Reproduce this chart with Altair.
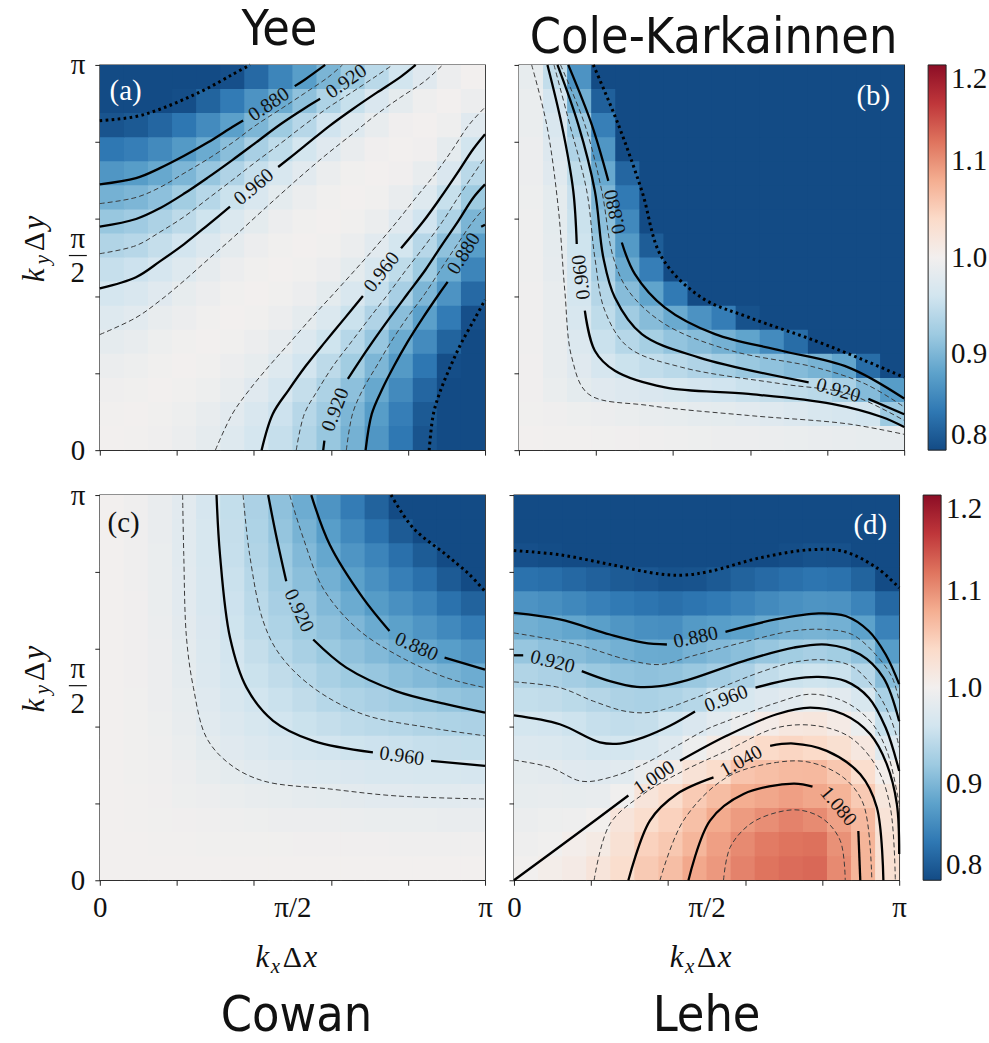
import altair as alt
import pandas as pd

SERIF = "Liberation Serif"
SANS = "DejaVu Sans Condensed"
N = 16
PANEL = 386
TICKS = [0, 0.2, 0.4, 0.6, 0.8, 1.0]

# ---------------- heat-map values ----------------
# rows: k_y index from 0 (bottom) to pi (top); 16 columns k_x from 0 to pi
YEE_ROWS = [
    [1.000, 0.999, 0.996, 0.991, 0.984, 0.975, 0.964, 0.951, 0.935, 0.917, 0.895, 0.869, 0.840, 0.808, 0.770, 0.730],
    [0.999, 1.000, 0.998, 0.994, 0.988, 0.980, 0.969, 0.956, 0.940, 0.922, 0.900, 0.875, 0.846, 0.813, 0.776, 0.736],
    [0.996, 0.998, 1.000, 0.998, 0.994, 0.987, 0.977, 0.965, 0.950, 0.932, 0.910, 0.886, 0.857, 0.824, 0.787, 0.747],
    [0.991, 0.994, 0.998, 1.000, 0.998, 0.993, 0.986, 0.975, 0.961, 0.944, 0.924, 0.900, 0.872, 0.839, 0.803, 0.763],
    [0.984, 0.988, 0.994, 0.998, 1.000, 0.998, 0.993, 0.985, 0.973, 0.958, 0.939, 0.916, 0.889, 0.858, 0.822, 0.782],
    [0.975, 0.980, 0.987, 0.993, 0.998, 1.000, 0.998, 0.993, 0.984, 0.971, 0.955, 0.934, 0.908, 0.878, 0.843, 0.804],
    [0.964, 0.969, 0.977, 0.986, 0.993, 0.998, 1.000, 0.998, 0.993, 0.983, 0.969, 0.951, 0.928, 0.900, 0.866, 0.827],
    [0.951, 0.956, 0.965, 0.975, 0.985, 0.993, 0.998, 1.000, 0.998, 0.992, 0.982, 0.967, 0.946, 0.921, 0.889, 0.852],
    [0.935, 0.940, 0.950, 0.961, 0.973, 0.984, 0.993, 0.998, 1.000, 0.998, 0.991, 0.980, 0.963, 0.940, 0.911, 0.876],
    [0.917, 0.922, 0.932, 0.944, 0.958, 0.971, 0.983, 0.992, 0.998, 1.000, 0.998, 0.991, 0.978, 0.959, 0.933, 0.899],
    [0.895, 0.900, 0.910, 0.924, 0.939, 0.955, 0.969, 0.982, 0.991, 0.998, 1.000, 0.998, 0.989, 0.975, 0.952, 0.921],
    [0.869, 0.875, 0.886, 0.900, 0.916, 0.934, 0.951, 0.967, 0.980, 0.991, 0.998, 1.000, 0.997, 0.988, 0.970, 0.942],
    [0.840, 0.846, 0.857, 0.872, 0.889, 0.908, 0.928, 0.946, 0.963, 0.978, 0.989, 0.997, 1.000, 0.997, 0.984, 0.960],
    [0.808, 0.813, 0.824, 0.839, 0.858, 0.878, 0.900, 0.921, 0.940, 0.959, 0.975, 0.988, 0.997, 1.000, 0.995, 0.977],
    [0.770, 0.776, 0.787, 0.803, 0.822, 0.843, 0.866, 0.889, 0.911, 0.933, 0.952, 0.970, 0.984, 0.995, 1.000, 0.992],
    [0.730, 0.736, 0.747, 0.763, 0.782, 0.804, 0.827, 0.852, 0.876, 0.899, 0.921, 0.942, 0.960, 0.977, 0.992, 1.000],
]

CK_ROWS = [
    [1.000, 0.999, 0.999, 0.998, 0.997, 0.996, 0.995, 0.994, 0.993, 0.992, 0.991, 0.990, 0.989, 0.988, 0.986, 0.985],
    [0.998, 0.996, 0.994, 0.992, 0.990, 0.988, 0.986, 0.984, 0.982, 0.980, 0.976, 0.972, 0.968, 0.965, 0.961, 0.920],
    [0.997, 0.990, 0.982, 0.977, 0.974, 0.970, 0.966, 0.962, 0.959, 0.954, 0.950, 0.946, 0.942, 0.930, 0.905, 0.875],
    [0.997, 0.988, 0.978, 0.965, 0.955, 0.948, 0.942, 0.934, 0.926, 0.918, 0.912, 0.905, 0.897, 0.883, 0.830, 0.790],
    [0.996, 0.988, 0.972, 0.954, 0.939, 0.927, 0.914, 0.906, 0.895, 0.882, 0.858, 0.830, 0.800, 0.780, 0.770, 0.760],
    [0.996, 0.987, 0.968, 0.946, 0.923, 0.906, 0.888, 0.865, 0.845, 0.806, 0.780, 0.770, 0.760, 0.760, 0.760, 0.760],
    [0.996, 0.987, 0.964, 0.938, 0.906, 0.882, 0.842, 0.800, 0.780, 0.760, 0.760, 0.760, 0.760, 0.760, 0.760, 0.760],
    [0.995, 0.985, 0.961, 0.928, 0.888, 0.846, 0.800, 0.770, 0.760, 0.760, 0.760, 0.760, 0.760, 0.760, 0.760, 0.760],
    [0.995, 0.984, 0.958, 0.916, 0.872, 0.816, 0.780, 0.760, 0.760, 0.760, 0.760, 0.760, 0.760, 0.760, 0.760, 0.760],
    [0.995, 0.983, 0.955, 0.910, 0.856, 0.800, 0.770, 0.760, 0.760, 0.760, 0.760, 0.760, 0.760, 0.760, 0.760, 0.760],
    [0.994, 0.982, 0.953, 0.900, 0.842, 0.780, 0.760, 0.760, 0.760, 0.760, 0.760, 0.760, 0.760, 0.760, 0.760, 0.760],
    [0.993, 0.978, 0.946, 0.887, 0.824, 0.770, 0.760, 0.760, 0.760, 0.760, 0.760, 0.760, 0.760, 0.760, 0.760, 0.760],
    [0.992, 0.974, 0.934, 0.869, 0.800, 0.760, 0.760, 0.760, 0.760, 0.760, 0.760, 0.760, 0.760, 0.760, 0.760, 0.760],
    [0.990, 0.969, 0.920, 0.847, 0.780, 0.760, 0.760, 0.760, 0.760, 0.760, 0.760, 0.760, 0.760, 0.760, 0.760, 0.760],
    [0.990, 0.962, 0.893, 0.819, 0.760, 0.760, 0.760, 0.760, 0.760, 0.760, 0.760, 0.760, 0.760, 0.760, 0.760, 0.760],
    [0.986, 0.948, 0.866, 0.790, 0.760, 0.760, 0.760, 0.760, 0.760, 0.760, 0.760, 0.760, 0.760, 0.760, 0.760, 0.760],
]

COWAN_ROWS = [
    [1.000, 1.000, 1.000, 1.000, 1.000, 1.000, 1.000, 1.000, 1.000, 1.000, 1.000, 1.000, 1.000, 1.000, 1.000, 1.000],
    [1.000, 1.000, 0.999, 0.999, 0.998, 0.998, 0.998, 0.998, 0.997, 0.997, 0.997, 0.997, 0.996, 0.996, 0.996, 0.996],
    [1.000, 0.999, 0.998, 0.997, 0.996, 0.995, 0.994, 0.993, 0.993, 0.992, 0.991, 0.990, 0.990, 0.990, 0.989, 0.989],
    [1.000, 0.999, 0.997, 0.994, 0.992, 0.990, 0.988, 0.986, 0.984, 0.982, 0.981, 0.980, 0.980, 0.979, 0.979, 0.980],
    [1.000, 0.998, 0.996, 0.992, 0.986, 0.982, 0.979, 0.976, 0.973, 0.971, 0.970, 0.968, 0.968, 0.966, 0.966, 0.965],
    [1.000, 0.998, 0.995, 0.990, 0.982, 0.977, 0.972, 0.968, 0.964, 0.961, 0.958, 0.956, 0.954, 0.951, 0.950, 0.949],
    [1.000, 0.998, 0.994, 0.988, 0.979, 0.972, 0.966, 0.960, 0.955, 0.950, 0.945, 0.942, 0.939, 0.935, 0.933, 0.931],
    [1.000, 0.998, 0.993, 0.986, 0.976, 0.968, 0.960, 0.954, 0.947, 0.939, 0.933, 0.928, 0.923, 0.920, 0.915, 0.911],
    [1.000, 0.997, 0.993, 0.984, 0.973, 0.964, 0.955, 0.947, 0.939, 0.929, 0.921, 0.916, 0.909, 0.903, 0.897, 0.890],
    [1.000, 0.997, 0.992, 0.982, 0.971, 0.961, 0.950, 0.939, 0.929, 0.919, 0.911, 0.903, 0.894, 0.885, 0.876, 0.867],
    [1.000, 0.997, 0.991, 0.981, 0.970, 0.958, 0.945, 0.933, 0.921, 0.911, 0.901, 0.889, 0.879, 0.868, 0.856, 0.844],
    [1.000, 0.997, 0.990, 0.980, 0.968, 0.956, 0.942, 0.928, 0.916, 0.903, 0.889, 0.874, 0.863, 0.851, 0.835, 0.821],
    [1.000, 0.996, 0.990, 0.980, 0.968, 0.954, 0.939, 0.923, 0.909, 0.894, 0.879, 0.863, 0.847, 0.833, 0.814, 0.798],
    [1.000, 0.996, 0.990, 0.979, 0.966, 0.951, 0.935, 0.920, 0.903, 0.885, 0.868, 0.851, 0.833, 0.815, 0.795, 0.780],
    [1.000, 0.996, 0.989, 0.979, 0.966, 0.950, 0.933, 0.915, 0.897, 0.876, 0.856, 0.835, 0.814, 0.795, 0.780, 0.770],
    [1.000, 0.996, 0.989, 0.980, 0.965, 0.949, 0.931, 0.911, 0.890, 0.867, 0.844, 0.821, 0.798, 0.780, 0.770, 0.760],
]

# Lehe: given column by column (k_x index), each from k_y = 0 (bottom) to pi (top)
LEHE_COLS = [
    [0.999, 0.995, 0.991, 0.986, 0.982, 0.973, 0.963, 0.949, 0.935, 0.916, 0.893, 0.866, 0.835, 0.804, 0.780, 0.760],
    [1.005, 0.998, 0.994, 0.988, 0.981, 0.971, 0.961, 0.947, 0.931, 0.910, 0.889, 0.862, 0.832, 0.802, 0.780, 0.760],
    [1.010, 1.004, 0.995, 0.986, 0.978, 0.967, 0.957, 0.943, 0.925, 0.906, 0.884, 0.855, 0.826, 0.797, 0.780, 0.760],
    [1.022, 1.011, 1.001, 0.988, 0.976, 0.963, 0.951, 0.938, 0.919, 0.900, 0.877, 0.848, 0.820, 0.790, 0.770, 0.760],
    [1.035, 1.028, 1.022, 0.998, 0.979, 0.963, 0.948, 0.932, 0.914, 0.894, 0.869, 0.842, 0.814, 0.790, 0.770, 0.760],
    [1.055, 1.048, 1.035, 1.022, 0.989, 0.968, 0.950, 0.930, 0.911, 0.889, 0.863, 0.837, 0.811, 0.785, 0.770, 0.760],
    [1.066, 1.057, 1.048, 1.036, 1.009, 0.976, 0.960, 0.933, 0.913, 0.888, 0.861, 0.833, 0.806, 0.780, 0.770, 0.760],
    [1.084, 1.073, 1.064, 1.054, 1.026, 0.994, 0.970, 0.939, 0.918, 0.896, 0.872, 0.837, 0.807, 0.780, 0.770, 0.760],
    [1.095, 1.090, 1.082, 1.067, 1.037, 1.011, 0.980, 0.958, 0.925, 0.903, 0.876, 0.842, 0.813, 0.790, 0.770, 0.760],
    [1.110, 1.105, 1.093, 1.080, 1.060, 1.026, 0.993, 0.966, 0.931, 0.909, 0.880, 0.850, 0.821, 0.795, 0.770, 0.760],
    [1.120, 1.115, 1.102, 1.085, 1.065, 1.040, 1.008, 0.974, 0.947, 0.916, 0.888, 0.857, 0.828, 0.800, 0.780, 0.760],
    [1.125, 1.120, 1.110, 1.090, 1.069, 1.044, 1.016, 0.980, 0.955, 0.924, 0.895, 0.863, 0.833, 0.803, 0.780, 0.760],
    [1.128, 1.122, 1.104, 1.085, 1.070, 1.040, 1.018, 0.986, 0.958, 0.928, 0.897, 0.867, 0.837, 0.806, 0.780, 0.760],
    [1.105, 1.100, 1.089, 1.075, 1.058, 1.031, 1.010, 0.980, 0.955, 0.924, 0.894, 0.865, 0.835, 0.805, 0.780, 0.760],
    [1.074, 1.074, 1.070, 1.055, 1.035, 1.016, 0.990, 0.967, 0.940, 0.912, 0.880, 0.851, 0.822, 0.793, 0.770, 0.760],
    [1.030, 1.028, 1.025, 1.019, 1.003, 0.975, 0.952, 0.930, 0.906, 0.875, 0.850, 0.826, 0.800, 0.780, 0.770, 0.760],
]
LEHE_ROWS = [[LEHE_COLS[i][j] for i in range(N)] for j in range(N)]

# ---------------- contour lines (k_x/pi, k_y/pi) ----------------
A_080 = [(0.0, 0.855), (0.094, 0.866), (0.156, 0.885), (0.219, 0.911), (0.281, 0.940), (0.344, 0.975), (0.39, 1.0)]
A_088_1 = [(0.0, 0.690), (0.094, 0.706), (0.156, 0.732), (0.219, 0.764), (0.281, 0.799), (0.344, 0.839), (0.372, 0.856)]
A_088_2 = [(0.506, 0.945), (0.531, 0.961), (0.585, 1.0)]
A_090 = [(0.0, 0.640), (0.094, 0.656), (0.156, 0.682), (0.219, 0.719), (0.281, 0.756), (0.344, 0.798), (0.406, 0.844),
         (0.469, 0.885), (0.531, 0.926), (0.594, 0.969), (0.63, 1.0)]
A_092_1 = [(0.0, 0.580), (0.094, 0.600), (0.156, 0.628), (0.219, 0.666), (0.281, 0.708), (0.344, 0.753), (0.406, 0.799),
           (0.469, 0.846), (0.531, 0.887), (0.572, 0.912)]
A_094 = [(0.0, 0.510), (0.094, 0.531), (0.156, 0.566), (0.219, 0.606), (0.281, 0.653), (0.344, 0.701), (0.406, 0.749),
         (0.469, 0.796), (0.531, 0.844), (0.594, 0.890), (0.656, 0.930), (0.719, 0.972), (0.76, 1.0)]
A_096_1 = [(0.0, 0.420), (0.094, 0.449), (0.156, 0.490), (0.219, 0.535), (0.281, 0.585), (0.338, 0.632)]
A_096_2 = [(0.463, 0.735), (0.531, 0.789), (0.594, 0.840), (0.656, 0.885), (0.719, 0.928), (0.781, 0.969), (0.82, 1.0)]
A_098 = [(0.0, 0.300), (0.094, 0.344), (0.156, 0.388), (0.219, 0.440), (0.281, 0.495), (0.344, 0.550), (0.406, 0.607),
         (0.469, 0.664), (0.531, 0.719), (0.594, 0.772), (0.656, 0.821), (0.719, 0.872), (0.781, 0.916), (0.844, 0.958),
         (0.89, 1.0)]
LR_088_1 = [(0.690, 0.0), (0.706, 0.094), (0.732, 0.156), (0.764, 0.219), (0.799, 0.281), (0.839, 0.344), (0.881, 0.406), (0.903, 0.437)]
LR_088_2 = [(0.990, 0.580), (1.0, 0.585)]
LR_092_1 = [(0.580, 0.0), (0.583, 0.025)]
LR_092_2 = [(0.644, 0.185), (0.666, 0.219), (0.708, 0.281), (0.753, 0.344), (0.799, 0.406), (0.846, 0.469), (0.887, 0.531),
            (0.930, 0.594), (0.970, 0.656), (1.0, 0.69)]
LR_096_1 = [(0.420, 0.0), (0.449, 0.094), (0.490, 0.156), (0.535, 0.219), (0.585, 0.281), (0.637, 0.344), (0.683, 0.400)]
LR_096_2 = [(0.782, 0.524), (0.840, 0.594), (0.885, 0.656), (0.928, 0.719), (0.969, 0.781), (1.0, 0.82)]


def mirror(seg):
    return [(w, u) for (u, w) in seg]


YEE_CURVES = [
    ("dotted", [A_080, mirror(A_080)]),
    ("solid", [A_088_1, A_088_2, LR_088_1, LR_088_2]),
    ("dashed", [A_090, mirror(A_090)]),
    ("solid", [A_092_1, LR_092_1, LR_092_2]),
    ("dashed", [A_094, mirror(A_094)]),
    ("solid", [A_096_1, A_096_2, LR_096_1, LR_096_2]),
    ("dashed", [A_098, mirror(A_098)]),
]

B_080 = [(0.193, 1.0), (0.258, 0.845), (0.319, 0.673), (0.371, 0.5), (0.474, 0.396), (0.596, 0.345), (0.769, 0.284), (0.899, 0.232), (1.0, 0.189)]
B_088_1 = [(0.128, 1.0), (0.189, 0.845), (0.232, 0.699)]
B_088_2 = [(0.267, 0.539), (0.301, 0.457), (0.379, 0.370), (0.509, 0.301), (0.682, 0.258), (0.855, 0.215), (1.0, 0.134)]
B_090 = [(0.108, 1.0), (0.171, 0.845), (0.215, 0.673), (0.245, 0.5), (0.284, 0.414), (0.379, 0.327), (0.552, 0.258), (0.769, 0.215), (0.899, 0.172), (1.0, 0.112)]
B_092_1 = [(0.100, 1.0), (0.154, 0.845), (0.197, 0.673), (0.219, 0.5), (0.249, 0.396), (0.319, 0.301), (0.466, 0.241), (0.752, 0.176)]
B_092_2 = [(0.907, 0.133), (1.0, 0.093)]
B_094 = [(0.091, 1.0), (0.132, 0.845), (0.176, 0.673), (0.197, 0.5), (0.223, 0.362), (0.284, 0.267), (0.423, 0.215), (0.682, 0.172), (0.855, 0.146), (1.0, 0.077)]
B_096_1 = [(0.074, 1.0), (0.111, 0.845), (0.141, 0.673), (0.150, 0.535)]
B_096_2 = [(0.171, 0.362), (0.197, 0.258), (0.249, 0.206), (0.379, 0.163), (0.596, 0.146), (0.812, 0.120), (0.942, 0.086), (1.0, 0.060)]
B_098 = [(0.033, 1.0), (0.072, 0.845), (0.102, 0.630), (0.119, 0.414), (0.137, 0.241), (0.180, 0.146), (0.336, 0.116), (0.596, 0.090), (0.855, 0.068), (1.0, 0.041)]
CK_CURVES = [
    ("dotted", [B_080]),
    ("solid", [B_088_1, B_088_2, B_092_1, B_092_2, B_096_1, B_096_2]),
    ("dashed", [B_090, B_094, B_098]),
]

C_080 = [(0.756, 1.0), (0.813, 0.915), (0.899, 0.845), (0.959, 0.794), (1.0, 0.750)]
C_088_1 = [(0.549, 1.0), (0.597, 0.871), (0.683, 0.733), (0.752, 0.647)]
C_088_2 = [(0.895, 0.578), (1.0, 0.547)]
C_090 = [(0.493, 1.0), (0.528, 0.889), (0.579, 0.759), (0.666, 0.655), (0.769, 0.586), (0.899, 0.526), (1.0, 0.5)]
C_092_1 = [(0.437, 1.0), (0.459, 0.889), (0.484, 0.776)]
C_092_2 = [(0.554, 0.625), (0.640, 0.552), (0.769, 0.491), (0.899, 0.457), (1.0, 0.435)]
C_094 = [(0.372, 1.0), (0.389, 0.845), (0.424, 0.673), (0.467, 0.586), (0.554, 0.5), (0.683, 0.431), (0.856, 0.396), (1.0, 0.375)]
C_096_1 = [(0.303, 1.0), (0.312, 0.845), (0.338, 0.630), (0.381, 0.5), (0.450, 0.414), (0.554, 0.362), (0.709, 0.332)]
C_096_2 = [(0.860, 0.310), (1.0, 0.297)]
C_098 = [(0.215, 1.0), (0.218, 0.845), (0.225, 0.630), (0.243, 0.5), (0.277, 0.370), (0.338, 0.301), (0.424, 0.258), (0.597, 0.237), (0.769, 0.219), (1.0, 0.211)]
COWAN_CURVES = [
    ("dotted", [C_080]),
    ("solid", [C_088_1, C_088_2, C_092_1, C_092_2, C_096_1, C_096_2]),
    ("dashed", [C_090, C_094, C_098]),
]

D_080 = [(0.0, 0.856), (0.119, 0.845), (0.249, 0.820), (0.379, 0.795), (0.440, 0.792), (0.509, 0.802), (0.639, 0.837), (0.769, 0.858), (0.855, 0.854), (0.942, 0.811), (1.0, 0.759)]
D_088_1 = [(0.0, 0.694), (0.119, 0.677), (0.249, 0.638), (0.336, 0.617), (0.397, 0.612)]
D_088_2 = [(0.549, 0.645), (0.679, 0.677), (0.791, 0.693), (0.861, 0.686), (0.921, 0.647), (0.965, 0.586), (1.0, 0.509)]
D_090 = [(0.0, 0.642), (0.163, 0.612), (0.293, 0.573), (0.379, 0.560), (0.462, 0.582), (0.592, 0.617), (0.722, 0.647), (0.809, 0.651), (0.878, 0.638), (0.939, 0.586), (0.982, 0.526), (1.0, 0.465)]
D_092_1 = [(0.0, 0.584), (0.024, 0.584)]
D_092_2 = [(0.176, 0.543), (0.249, 0.517), (0.319, 0.502), (0.379, 0.504), (0.448, 0.519), (0.596, 0.569), (0.726, 0.604), (0.812, 0.612), (0.899, 0.586), (0.959, 0.526), (1.0, 0.413)]
D_094 = [(0.0, 0.515), (0.119, 0.500), (0.206, 0.465), (0.293, 0.438), (0.362, 0.437), (0.462, 0.470), (0.549, 0.505), (0.639, 0.540), (0.726, 0.566), (0.809, 0.572), (0.878, 0.555), (0.930, 0.505), (0.965, 0.450), (0.990, 0.385), (1.0, 0.345)]
D_096_1 = [(0.0, 0.428), (0.119, 0.405), (0.223, 0.358), (0.275, 0.355), (0.336, 0.371), (0.405, 0.401), (0.470, 0.438)]
D_096_2 = [(0.627, 0.500), (0.722, 0.522), (0.791, 0.528), (0.861, 0.517), (0.921, 0.474), (0.965, 0.396), (1.0, 0.284)]
D_098 = [(0.0, 0.312), (0.094, 0.293), (0.176, 0.257), (0.249, 0.267), (0.336, 0.301), (0.423, 0.349), (0.500, 0.392), (0.552, 0.413), (0.682, 0.461), (0.769, 0.483), (0.855, 0.465), (0.925, 0.413), (0.968, 0.336), (1.0, 0.198)]
D_100_1 = [(0.0, 0.0), (0.163, 0.120), (0.297, 0.220)]
D_100_2 = [(0.431, 0.310), (0.552, 0.375), (0.682, 0.431), (0.769, 0.448), (0.855, 0.431), (0.925, 0.379), (0.968, 0.301), (0.994, 0.198), (1.0, 0.068)]
D_102 = [(0.208, 0.0), (0.249, 0.146), (0.336, 0.224), (0.440, 0.284), (0.552, 0.336), (0.682, 0.396), (0.786, 0.401), (0.873, 0.371), (0.942, 0.293), (0.977, 0.189), (0.990, 0.0)]
D_104_1 = [(0.297, 0.0), (0.353, 0.155), (0.423, 0.224), (0.518, 0.267)]
D_104_2 = [(0.665, 0.349), (0.726, 0.355), (0.812, 0.336), (0.899, 0.275), (0.942, 0.189), (0.959, 0.0)]
D_106 = [(0.379, 0.0), (0.440, 0.155), (0.552, 0.267), (0.682, 0.306), (0.769, 0.306), (0.855, 0.267), (0.907, 0.198), (0.929, 0.0)]
D_108_1 = [(0.453, 0.0), (0.509, 0.155), (0.596, 0.224), (0.726, 0.251), (0.775, 0.243)]
D_108_2 = [(0.894, 0.128), (0.899, 0.0)]
D_110 = [(0.544, 0.0), (0.561, 0.085), (0.613, 0.146), (0.682, 0.176), (0.743, 0.182), (0.803, 0.159), (0.847, 0.103), (0.860, 0.0)]
LEHE_CURVES = [
    ("dotted", [D_080]),
    ("solid", [D_088_1, D_088_2, D_092_1, D_092_2, D_096_1, D_096_2, D_100_1, D_100_2, D_104_1, D_104_2, D_108_1, D_108_2]),
    ("dashed", [D_090, D_094, D_098, D_102, D_106, D_110]),
]

YEE_LABELS = [("0.880", 0.439, 0.897, 326), ("0.920", 0.640, 0.957, 325), ("0.960", 0.400, 0.683, 320),
              ("0.960", 0.732, 0.462, 308), ("0.880", 0.945, 0.510, 302), ("0.920", 0.612, 0.105, 291)]
CK_LABELS = [("0.960", 0.162, 0.449, 263), ("0.880", 0.250, 0.619, 258), ("0.920", 0.829, 0.155, 16)]
COWAN_LABELS = [("0.960", 0.784, 0.322, 8), ("0.920", 0.517, 0.700, 65), ("0.880", 0.822, 0.606, 24)]
LEHE_LABELS = [("0.880", 0.472, 0.630, 348), ("0.920", 0.100, 0.567, 14), ("0.960", 0.551, 0.471, 339),
               ("1.000", 0.364, 0.266, 326), ("1.040", 0.590, 0.309, 331), ("1.080", 0.842, 0.192, 50)]

CBAR_TICKS = [0.8, 0.9, 1.0, 1.1, 1.2]

CSCALE = alt.Scale(scheme="redblue", reverse=True, domain=[0.8, 1.2], clamp=True)

LINE_STYLES = {
    "dashed": dict(color="#3a3a3a", strokeWidth=1.0, strokeDash=[5, 3]),
    "solid": dict(color="#000000", strokeWidth=2.3),
    "dotted": dict(color="#000000", strokeWidth=3.0, strokeDash=[2.6, 3.4]),
}

OVERLAP = 0.0025  # tiny overlap of neighbouring cells to hide anti-aliasing seams


def heat_frame(rows):
    recs = []
    for j, row in enumerate(rows):
        for i, v in enumerate(row):
            recs.append({"x0": i / N, "x1": (i + 1) / N + OVERLAP,
                         "y0": j / N, "y1": (j + 1) / N + OVERLAP, "v": v})
    return pd.DataFrame(recs)


def curves_frame(curves):
    recs = []
    sid = 0
    for style, segs in curves:
        for seg in segs:
            sid += 1
            for k, (u, w) in enumerate(seg):
                recs.append({"u": u, "w": w, "seg": sid, "k": k, "style": style})
    return pd.DataFrame(recs)


AX_COMMON = dict(domain=False, grid=False, ticks=True, tickSize=5, tickWidth=1, tickColor="#222222",
                 title=None, minExtent=0)


def axis_x(show):
    if show:
        return alt.Axis(values=[0, 0.2, 0.4, 0.5, 0.6, 0.8, 1.0],
                        labelExpr="datum.value == 0 ? '0' : datum.value == 1 ? 'π' : datum.value == 0.5 ? 'π/2' : ''",
                        tickOpacity={"condition": {"test": "datum.value == 0.5", "value": 0}, "value": 1},
                        labelFont=SERIF, labelFontSize=29, labelColor="#111111", labelPadding=8,
                        labelFlush=False, labelOverlap=False, **AX_COMMON)
    return alt.Axis(values=TICKS, labels=False, **AX_COMMON)


def axis_y(show):
    if show:
        return alt.Axis(values=TICKS,
                        labelExpr="datum.value == 0 ? '0' : datum.value == 1 ? 'π' : ''",
                        labelFont=SERIF, labelFontSize=29, labelColor="#111111", labelPadding=10,
                        labelFlush=False, labelOverlap=False, **AX_COMMON)
    return alt.Axis(values=TICKS, labels=False, **AX_COMMON)


ONE = pd.DataFrame({"t": ["-"]})


def note(text, x, y, size=30, style="normal", angle=0, align="center", baseline="alphabetic"):
    return alt.Chart(pd.DataFrame({"t": [text]})).mark_text(
        font=SERIF, fontSize=size, fontStyle=style, angle=angle, align=align, baseline=baseline,
        color="#111111").encode(text="t:N", x=alt.value(x), y=alt.value(y))


LEGEND = alt.Legend(type="gradient", orient="right", offset=18, direction="vertical", gradientLength=PANEL,
                    gradientThickness=18, values=CBAR_TICKS, format=".1f",
                    labelFont=SERIF, labelFontSize=29, labelColor="#111111", labelOffset=5,
                    labelOverlap=False, gradientStrokeColor="#222222", gradientStrokeWidth=1,
                    title=None, padding=0)


def make_panel(rows, curves, labels, letter, letter_color, letter_pos, left, bottom, legend,
               title, title_orient, title_dx, title_offset):
    xs = alt.Scale(domain=[0, 1], nice=False, zero=False)
    ys = alt.Scale(domain=[0, 1], nice=False, zero=False)
    xa = axis_x(bottom)
    ya = axis_y(left)

    layers = [
        alt.Chart(heat_frame(rows)).mark_rect(clip=True).encode(
            x=alt.X("x0:Q", scale=xs, axis=xa), x2="x1:Q",
            y=alt.Y("y0:Q", scale=ys, axis=ya), y2="y1:Q",
            color=alt.Color("v:Q", scale=CSCALE, legend=legend),
        )
    ]
    cdf = curves_frame(curves)
    for style, kw in LINE_STYLES.items():
        sub = cdf[cdf["style"] == style]
        if len(sub):
            layers.append(
                alt.Chart(sub).mark_line(interpolate="catmull-rom", strokeCap="butt", **kw).encode(
                    x=alt.X("u:Q", scale=xs, axis=xa), y=alt.Y("w:Q", scale=ys, axis=ya),
                    detail="seg:N", order="k:Q")
            )
    ldf = pd.DataFrame(labels, columns=["t", "u", "w", "a"])
    layers.append(
        alt.Chart(ldf).mark_text(font=SERIF, fontSize=20, color="#111111", align="center", baseline="middle").encode(
            x=alt.X("u:Q", scale=xs, axis=xa), y=alt.Y("w:Q", scale=ys, axis=ya),
            text="t:N", angle=alt.Angle("a:Q", scale=None))
    )
    lt = pd.DataFrame({"t": [letter], "u": [letter_pos[0]], "w": [letter_pos[1]]})
    layers.append(
        alt.Chart(lt).mark_text(font=SERIF, fontSize=29, color=letter_color, align="center", baseline="middle").encode(
            x=alt.X("u:Q", scale=xs, axis=xa), y=alt.Y("w:Q", scale=ys, axis=ya), text="t:N")
    )
    if left:
        layers.append(note("π", -22, 174, size=29, baseline="middle"))
        layers.append(note("2", -22, 209, size=29, baseline="middle"))
        layers.append(alt.Chart(ONE).mark_rule(color="#111111", strokeWidth=1.2).encode(
            x=alt.value(-31), x2=alt.value(-13), y=alt.value(191)))
        layers.append(note("k", -56, 211, size=31, style="italic", angle=270, baseline="alphabetic"))
        layers.append(note("y", -51, 195, size=21, style="italic", angle=270, baseline="alphabetic"))
        layers.append(note("Δ", -56, 177, size=30, angle=270, baseline="alphabetic"))
        layers.append(note("y", -56, 158, size=31, style="italic", angle=270, baseline="alphabetic"))
    if bottom:
        layers.append(note("k", 163, 473, size=31, style="italic"))
        layers.append(note("x", 176, 479, size=21, style="italic"))
        layers.append(note("Δ", 193, 473, size=30))
        layers.append(note("x", 211, 473, size=31, style="italic"))

    tp = alt.TitleParams(text=title, orient=title_orient, anchor="middle", frame="group", font=SANS,
                         fontSize=50, fontWeight="normal", color="#111111", offset=title_offset, dx=title_dx)
    return alt.layer(*layers).properties(width=PANEL, height=PANEL, title=tp)


pa = make_panel(YEE_ROWS, YEE_CURVES, YEE_LABELS, "(a)", "#ffffff", (0.067, 0.933), True, False, None,
                "Yee", "top", -13, -4)
pb = make_panel(CK_ROWS, CK_CURVES, CK_LABELS, "(b)", "#ffffff", (0.92, 0.92), False, False, LEGEND,
                "Cole-Karkainnen", "top", 2, -4)
pc = make_panel(COWAN_ROWS, COWAN_CURVES, COWAN_LABELS, "(c)", "#111111", (0.062, 0.927), True, True, None,
                "Cowan", "bottom", 4, 14)
pdl = make_panel(LEHE_ROWS, LEHE_CURVES, LEHE_LABELS, "(d)", "#ffffff", (0.925, 0.922), False, True, LEGEND,
                 "Lehe", "bottom", 0, 14)

row1 = alt.hconcat(pa, pb, spacing=20).resolve_scale(color="independent")
row2 = alt.hconcat(pc, pdl, spacing=13).resolve_scale(color="independent")
chart = alt.vconcat(row1, row2, spacing=14).resolve_scale(color="independent")
chart = chart.configure_view(stroke="#222222", strokeWidth=1.3).properties(
    padding={"left": 18, "top": 3, "right": 0, "bottom": 0}, background="#ffffff")

chart.save("out.html", embed_options={"renderer": "svg", "actions": False})
